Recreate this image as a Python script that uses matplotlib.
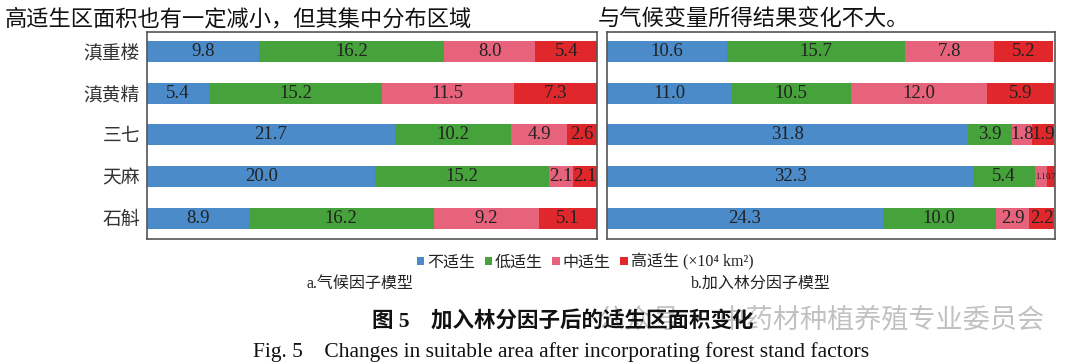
import numpy as np
import matplotlib
matplotlib.use("Agg")
import matplotlib.pyplot as plt
from matplotlib.patches import Patch

plt.rcParams['font.family'] = ['Liberation Serif', 'Noto Sans CJK SC', 'DejaVu Sans']

species = ["滇重楼", "滇黄精", "三七", "天麻", "石斛"]
classes = ["不适生", "低适生", "中适生", "高适生"]
colors = ["#4B8BC9", "#46A23A", "#E6637B", "#E0282C"]

# area values (x10^4 km2), one list per suitability class
climate_vals = {
    "不适生": [9.8, 5.4, 21.7, 20.0, 8.9],
    "低适生": [16.2, 15.2, 10.2, 15.2, 16.2],
    "中适生": [8.0, 11.5, 4.9, 2.1, 9.2],
    "高适生": [5.4, 7.3, 2.6, 2.1, 5.1],
}
forest_vals = {
    "不适生": [10.6, 11.0, 31.8, 32.3, 24.3],
    "低适生": [15.7, 10.5, 3.9, 5.4, 10.0],
    "中适生": [7.8, 12.0, 1.8, 1.1, 2.9],
    "高适生": [5.2, 5.9, 1.9, 0.7, 2.2],
}


def draw_panel(ax, vals, show_labels):
    y = np.arange(len(species))
    left = np.zeros(len(species))
    for cls, col in zip(classes, colors):
        v = np.array(vals[cls])
        ax.barh(y, v, left=left, height=0.5, color=col, edgecolor="none")
        for yi, l, w in zip(y, left, v):
            fs = 6 if w < 1.5 else 13.5
            ax.text(l + w / 2, yi, f"{w:.1f}", ha="center", va="center",
                    fontsize=fs, color="#222222")
        left = left + v
    ax.set_xlim(0, left.max())
    ax.set_ylim(4.5, -0.47)
    ax.set_xticks([])
    ax.set_yticks(y)
    if show_labels:
        ax.set_yticklabels(species, fontsize=13.5, color="#333333")
    else:
        ax.set_yticklabels([])
    ax.tick_params(axis="y", length=0, pad=5)
    for s in ax.spines.values():
        s.set_color("#555555")
        s.set_linewidth(1.2)


fig = plt.figure(figsize=(10.8, 3.64), dpi=100)

fig.text(5 / 1080, 1 - 20 / 364, "高适生区面积也有一定减小，但其集中分布区域",
         fontsize=16, va="center", ha="left", color="#111111", zorder=-1)
fig.text(598 / 1080, 1 - 20 / 364, "与气候变量所得结果变化不大。",
         fontsize=16, va="center", ha="left", color="#111111", zorder=-1)

ax1 = fig.add_axes([147 / 1080, 1 - 239 / 364, 450 / 1080, 207 / 364])
ax2 = fig.add_axes([607 / 1080, 1 - 239 / 364, 448 / 1080, 207 / 364])
draw_panel(ax1, climate_vals, True)
draw_panel(ax2, forest_vals, False)

labels = classes[:3] + ["高适生 (×10⁴ km²)"]
handles = [Patch(facecolor=c, edgecolor="none") for c in colors]
fig.legend(handles, labels, loc="center", bbox_to_anchor=(585 / 1080, 1 - 262 / 364),
           ncol=4, frameon=False, fontsize=11.5, handlelength=0.45, handleheight=0.45,
           handletextpad=0.2, columnspacing=0.6, labelcolor="#222222")

fig.text(360 / 1080, 1 - 284 / 364, "a.气候因子模型", fontsize=11.5,
         ha="center", va="center", color="#222222")
fig.text(761 / 1080, 1 - 284 / 364, "b.加入林分因子模型", fontsize=11.5,
         ha="center", va="center", color="#222222")

# watermark
fig.text(598 / 1080, 1 - 320 / 364, "公众号 · 中药材种植养殖专业委员会", fontsize=19.5,
         ha="left", va="center", color="#999999", alpha=0.6, zorder=5,
         family=['Noto Sans CJK SC'])

fig.text(563 / 1080, 1 - 322 / 364, "图 5    加入林分因子后的适生区面积变化", fontsize=15.5,
         ha="center", va="center", color="#111111", fontweight="bold", zorder=6)
fig.text(561 / 1080, 1 - 352 / 364,
         "Fig. 5    Changes in suitable area after incorporating forest stand factors",
         fontsize=15.5, ha="center", va="center", color="#111111")

fig.savefig("out.png", dpi=100)
